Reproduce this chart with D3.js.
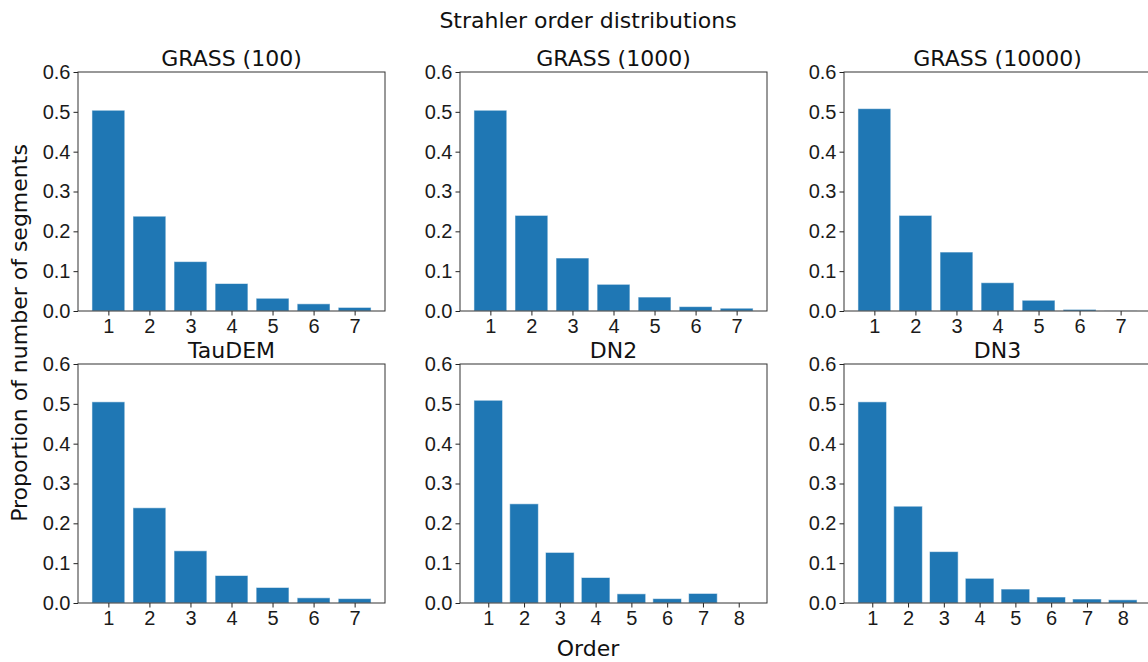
<!DOCTYPE html>
<html>
<head>
<meta charset="utf-8">
<script src="https://cdn.jsdelivr.net/npm/d3@7.9.0/dist/d3.min.js"></script>
<style>
  body { margin: 0; background: #fff; }
  svg { font-family: "DejaVu Sans", sans-serif; }
</style>
</head>
<body>
<svg id="chart" width="1148" height="662"></svg>
<script>
// panel names, in reading order
const titles = ['GRASS (100)', 'GRASS (1000)', 'GRASS (10000)', 'TauDEM', 'DN2', 'DN3'];

// proportion of segments per Strahler order, one list per panel
const grass100   = [0.504, 0.238, 0.124, 0.069, 0.032, 0.018, 0.009];
const grass1000  = [0.504, 0.240, 0.133, 0.067, 0.035, 0.011, 0.007];
const grass10000 = [0.508, 0.240, 0.148, 0.071, 0.027, 0.004, 0.0003];
const taudem     = [0.505, 0.239, 0.131, 0.069, 0.039, 0.013, 0.011];
const dn2        = [0.509, 0.249, 0.127, 0.064, 0.023, 0.011, 0.024, 0.0];
const dn3        = [0.505, 0.243, 0.129, 0.062, 0.035, 0.015, 0.010, 0.008];

const yTicks = [0, 0.1, 0.2, 0.3, 0.4, 0.5, 0.6];

const series = [grass100, grass1000, grass10000, taudem, dn2, dn3];

const svg = d3.select('#chart');

// axes boxes (matplotlib 2x3 grid)
const colX = [78, 460, 844];
const rowY = [72, 364];
const pw = 307, ph = 239;

series.forEach((vals, i) => {
  const orders = vals.map((_, k) => k + 1);
  const n = orders.length;
  // matplotlib bar: width 0.8, 5% margin on x
  const span = (n + 0.4) - 0.6;
  const pad = span * 0.05;

  const x = d3.scaleLinear().domain([0.6 - pad, n + 0.4 + pad]).range([0, pw]);
  const y = d3.scaleLinear().domain([0, 0.6]).range([ph, 0]);

  const g = svg.append('g')
    .attr('transform', `translate(${colX[i % 3]},${rowY[Math.floor(i / 3)]})`);

  g.selectAll('rect.bar')
    .data(vals)
    .join('rect')
    .attr('class', 'bar')
    .attr('x', (d, k) => x(orders[k] - 0.4))
    .attr('width', x(1.8) - x(1))
    .attr('y', d => y(d))
    .attr('height', d => y(0) - y(d))
    .attr('fill', '#1f77b4')
    .attr('stroke', '#ffffff')
    .attr('stroke-opacity', 0.55)
    .attr('stroke-width', 1);

  const yAxis = d3.axisLeft(y).tickValues(yTicks)
    .tickFormat(d3.format('.1f')).tickSizeInner(4.5).tickSizeOuter(0).tickPadding(3);
  const xAxis = d3.axisBottom(x).tickValues(orders)
    .tickFormat(d3.format('d')).tickSizeInner(4.5).tickSizeOuter(0).tickPadding(3);

  g.append('g').call(yAxis);
  g.append('g').attr('transform', `translate(0,${ph})`).call(xAxis);
  g.selectAll('.domain').remove();
  g.selectAll('.tick line').attr('stroke', '#222').attr('stroke-width', 1);
  g.selectAll('.tick text').attr('font-size', 20).attr('fill', '#1a1a1a');

  // frame
  g.append('rect')
    .attr('x', 0).attr('y', 0).attr('width', pw).attr('height', ph)
    .attr('fill', 'none').attr('stroke', '#333').attr('stroke-width', 1);

  g.append('text')
    .attr('x', pw / 2).attr('y', -6)
    .attr('text-anchor', 'middle')
    .attr('font-size', 22).attr('fill', '#111')
    .text(titles[i]);
});

svg.append('text')
  .attr('x', 588).attr('y', 28)
  .attr('text-anchor', 'middle')
  .attr('font-size', 22).attr('fill', '#111')
  .text('Strahler order distributions');

svg.append('text')
  .attr('x', 588).attr('y', 656)
  .attr('text-anchor', 'middle')
  .attr('font-size', 22).attr('fill', '#111')
  .text('Order');

svg.append('text')
  .attr('transform', 'translate(27,333) rotate(-90)')
  .attr('text-anchor', 'middle')
  .attr('font-size', 22).attr('fill', '#111')
  .text('Proportion of number of segments');
</script>
</body>
</html>
